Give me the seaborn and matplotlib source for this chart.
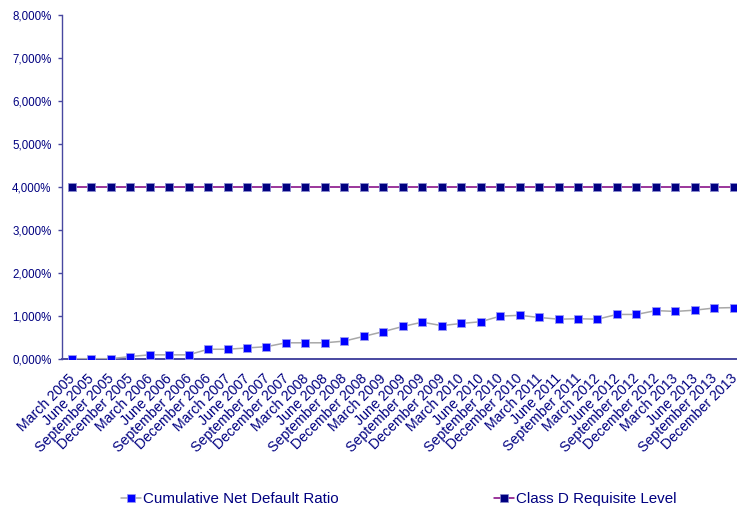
import matplotlib
matplotlib.use("Agg")
import matplotlib.pyplot as plt
from matplotlib.ticker import FuncFormatter, FixedLocator
from matplotlib.lines import Line2D
from matplotlib.transforms import ScaledTranslation
import seaborn as sns
import pandas as pd

quarters = [
    "March 2005", "June 2005", "September 2005", "December 2005",
    "March 2006", "June 2006", "September 2006", "December 2006",
    "March 2007", "June 2007", "September 2007", "December 2007",
    "March 2008", "June 2008", "September 2008", "December 2008",
    "March 2009", "June 2009", "September 2009", "December 2009",
    "March 2010", "June 2010", "September 2010", "December 2010",
    "March 2011", "June 2011", "September 2011",
    "March 2012", "June 2012", "September 2012", "December 2012",
    "March 2013", "June 2013", "September 2013", "December 2013",
]
cumulative_net_default = [
    0.00, 0.00, 0.00, 0.05, 0.09, 0.09, 0.09, 0.22, 0.22, 0.25,
    0.28, 0.37, 0.37, 0.37, 0.41, 0.52, 0.63, 0.75, 0.85, 0.77,
    0.82, 0.86, 0.99, 1.01, 0.96, 0.92, 0.93, 0.92, 1.03, 1.03,
    1.12, 1.10, 1.13, 1.18, 1.19,
]
class_d_requisite = [4.0] * len(quarters)
y_ticks = [0, 1, 2, 3, 4, 5, 6, 7, 8]

series_names = ["Cumulative Net Default Ratio", "Class D Requisite Level"]

TEXT = "#000080"
AXIS = "#4848a0"

sns.set_style("white")
plt.rcParams["font.family"] = ["Liberation Sans", "DejaVu Sans"]

fig = plt.figure(figsize=(7.37, 5.09), dpi=100)
W, H = 737, 509
ax = fig.add_axes([62 / W, 1 - 358.7 / H, 681.5 / W, (358.7 - 15) / H])

df = pd.DataFrame({
    "quarter": quarters,
    "cndr": cumulative_net_default,
    "classd": class_d_requisite,
})

sns.lineplot(data=df, x="quarter", y="classd", ax=ax, sort=False,
             color="#800080", lw=1.1, marker="s", markersize=6.4,
             markerfacecolor="#000080", markeredgecolor="#8c8cd0",
             markeredgewidth=0.6, zorder=3)
sns.lineplot(data=df, x="quarter", y="cndr", ax=ax, sort=False,
             color="#a8a8a8", lw=1.1, marker="s", markersize=6.4,
             markerfacecolor="#0000ff", markeredgecolor="#9c9cf0",
             markeredgewidth=0.6, zorder=3)

ax.set_xlim(-0.5, len(quarters) - 0.5)
ax.set_ylim(0, 8)
ax.yaxis.set_major_locator(FixedLocator(y_ticks))
ax.yaxis.set_major_formatter(
    FuncFormatter(lambda v, p: f"{v:.3f}".replace(".", ",") + "%"))
ax.set_xlabel("")
ax.set_ylabel("")

for s in ["top", "right"]:
    ax.spines[s].set_visible(False)
ax.spines["left"].set_color(AXIS)
ax.spines["left"].set_linewidth(1.0)
ax.spines["bottom"].set_color(AXIS)
ax.spines["bottom"].set_linewidth(1.4)

ax.tick_params(axis="y", left=True, length=3, width=1, color=AXIS,
               pad=4.5, labelsize=8.3, labelcolor=TEXT)
ax.tick_params(axis="x", bottom=False, length=0, pad=9,
               labelsize=10.2, labelcolor=TEXT)
shift = ScaledTranslation(-4 / 100, 0, fig.dpi_scale_trans)
for lab in ax.get_xticklabels():
    lab.set_rotation(45)
    lab.set_ha("right")
    lab.set_va("top")
    lab.set_rotation_mode("anchor")
    lab.set_transform(lab.get_transform() + shift)

handles = [
    Line2D([], [], color="#a8a8a8", lw=1.1, marker="s", markersize=5.5,
           markerfacecolor="#0000ff", markeredgecolor="#9c9cf0",
           markeredgewidth=0.5),
    Line2D([], [], color="#800080", lw=1.1, marker="s", markersize=5.5,
           markerfacecolor="#000080", markeredgecolor="#8c8cd0",
           markeredgewidth=0.5),
]
leg = fig.legend(handles, series_names, loc="center left",
                 bbox_to_anchor=(121 / W, 1 - 499 / H), ncol=2,
                 frameon=False, fontsize=10.9, handlelength=1.3,
                 handletextpad=0.13, columnspacing=10.3,
                 borderaxespad=0, borderpad=0)
for t in leg.get_texts():
    t.set_color(TEXT)

fig.savefig("out.png", dpi=100)
